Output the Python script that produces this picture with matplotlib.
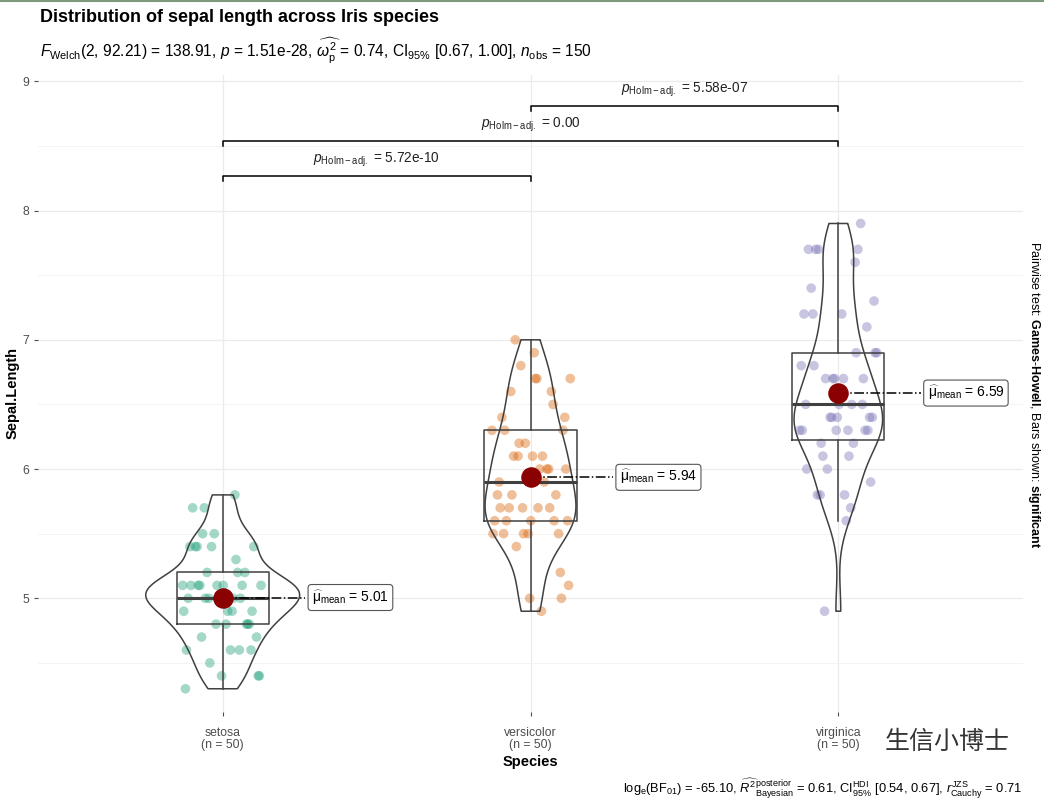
import matplotlib.pyplot as plt
import numpy as np

plt.rcParams['font.family'] = ['Liberation Sans', 'DejaVu Sans']
plt.rcParams['mathtext.fontset'] = 'custom'
plt.rcParams['mathtext.rm'] = 'Liberation Sans'
plt.rcParams['mathtext.it'] = 'Liberation Sans:italic'
plt.rcParams['mathtext.bf'] = 'Liberation Sans:bold'

# data: iris Sepal.Length by species
species = ['setosa', 'versicolor', 'virginica']
setosa = [5.1, 4.9, 4.7, 4.6, 5.0, 5.4, 4.6, 5.0, 4.4, 4.9, 5.4, 4.8, 4.8, 4.3, 5.8, 5.7, 5.4,
          5.1, 5.7, 5.1, 5.4, 5.1, 4.6, 5.1, 4.8, 5.0, 5.0, 5.2, 5.2, 4.7, 4.8, 5.4, 5.2, 5.5,
          4.9, 5.0, 5.5, 4.9, 4.4, 5.1, 5.0, 4.5, 4.4, 5.0, 5.1, 4.8, 5.1, 4.6, 5.3, 5.0]
versicolor = [7.0, 6.4, 6.9, 5.5, 6.5, 5.7, 6.3, 4.9, 6.6, 5.2, 5.0, 5.9, 6.0, 6.1, 5.6, 6.7, 5.6,
              5.8, 6.2, 5.6, 5.9, 6.1, 6.3, 6.1, 6.4, 6.6, 6.8, 6.7, 6.0, 5.7, 5.5, 5.5, 5.8, 6.0,
              5.4, 6.0, 6.7, 6.3, 5.6, 5.5, 5.5, 6.1, 5.8, 5.0, 5.6, 5.7, 5.7, 6.2, 5.1, 5.7]
virginica = [6.3, 5.8, 7.1, 6.3, 6.5, 7.6, 4.9, 7.3, 6.7, 7.2, 6.5, 6.4, 6.8, 5.7, 5.8, 6.4, 6.5,
             7.7, 7.7, 6.0, 6.9, 5.6, 7.7, 6.3, 6.7, 7.2, 6.2, 6.1, 6.4, 7.2, 7.4, 7.9, 6.4, 6.3,
             6.1, 7.7, 6.3, 6.4, 6.0, 6.9, 6.7, 6.9, 5.8, 6.8, 6.7, 6.7, 6.3, 6.5, 6.2, 5.9]
colors = ['#1B9E77', '#D95F02', '#7570B3']
pairs = [(0, 1), (0, 2), (1, 2)]
pair_p = ['5.72e-10', '0.00', '5.58e-07']

groups = [np.array(setosa), np.array(versicolor), np.array(virginica)]
pos = np.arange(1, len(species) + 1)

fig = plt.figure(figsize=(10.44, 8.05), dpi=100)
ax = fig.add_axes([0.0364, 0.1155, 0.9435, 0.7915])

# grid
ax.set_xlim(0.4, 3.6)
ax.set_ylim(4.12, 9.05)
ax.set_yticks([5, 6, 7, 8, 9])
ax.set_yticks(np.arange(4.5, 9.0, 1.0), minor=True)
ax.grid(which='major', color='#EBEBEB', lw=0.9)
ax.grid(which='minor', axis='y', color='#F2F2F2', lw=0.6)
ax.set_axisbelow(True)
for s in ax.spines.values():
    s.set_visible(False)
ax.tick_params(axis='both', which='major', length=3, color='#4D4D4D', labelcolor='#4D4D4D', labelsize=8.8)
ax.tick_params(axis='x', pad=8)
ax.tick_params(axis='y', which='minor', length=0)
ax.set_xticks(pos)
ax.set_xticklabels(['%s\n(n = %d)' % (sp, len(g)) for sp, g in zip(species, groups)], linespacing=1.0)

# jittered points
golden = 0.6180339887
for i, g in enumerate(groups):
    off = ((np.arange(len(g)) * golden + 0.31 * i) % 1 - 0.5) * 0.26
    ax.scatter(pos[i] + off, g, s=48, color=colors[i], alpha=0.4, edgecolors='none', zorder=2)

# boxplots
ax.boxplot(groups, positions=pos, widths=0.3, showfliers=False, whis=1.5, showcaps=False,
           boxprops=dict(color='#404040', lw=1.1), whiskerprops=dict(color='#404040', lw=1.1),
           medianprops=dict(color='#404040', lw=2.2), manage_ticks=False, zorder=3)

# violins (gaussian kde, bw.nrd0, trimmed, area scaling)
dens = []
for g in groups:
    n = len(g)
    iqr = np.percentile(g, 75) - np.percentile(g, 25)
    bw = 0.9 * min(g.std(ddof=1), iqr / 1.34) * n ** -0.2
    yy = np.linspace(g.min(), g.max(), 512)
    d = np.exp(-0.5 * ((yy[:, None] - g[None, :]) / bw) ** 2).sum(axis=1) / (n * bw * np.sqrt(2 * np.pi))
    dens.append((yy, d))
dmax = max(d.max() for _, d in dens)
for i, (yy, d) in enumerate(dens):
    hw = 0.25 * d / dmax
    ax.fill_betweenx(yy, pos[i] - hw, pos[i] + hw, facecolor='none', edgecolor='#404040', lw=1.1, zorder=3)

# means with labels
for i, g in enumerate(groups):
    m = g.mean()
    ax.plot([pos[i], pos[i] + 0.267], [m, m], ls='-.', color='black', lw=1.1, zorder=4)
    ax.scatter(pos[i], m, s=190, color='#8B0000', zorder=5)
    ax.text(pos[i] + 0.29, m, r'$\widehat{\mathrm{\mu}}_{\mathrm{mean}}$ = %.2f' % m, fontsize=10, va='center',
            ha='left', bbox=dict(boxstyle='round,pad=0.28,rounding_size=0.25', fc='white', ec='#555555', lw=0.8),
            zorder=6)

# pairwise brackets
top = max(g.max() for g in groups)
for k, ((a, b), p) in enumerate(zip(pairs, pair_p)):
    yb = top + 0.37 + 0.27 * k
    ax.plot([pos[a], pos[a], pos[b], pos[b]], [yb - 0.04, yb, yb, yb - 0.04], color='black', lw=1.1)
    ax.text((pos[a] + pos[b]) / 2, yb + 0.05, r'$p_{\mathrm{Holm-adj.}}$ = ' + p, fontsize=9.8,
            ha='center', va='bottom', color='#222222')

ax.set_ylabel('Sepal.Length', fontsize=10.5, fontweight='bold', labelpad=2)
ax.set_xlabel('Species', fontsize=10.5, fontweight='bold', labelpad=3)

fig.text(0.038, 0.978, 'Distribution of sepal length across Iris species', fontsize=13, fontweight='bold',
         ha='left', va='center')
fig.text(0.038, 0.937, r'$F_{\mathrm{Welch}}$(2, 92.21) = 138.91, $p$ = 1.51e-28, '
         r'$\widehat{\omega_{\mathrm{p}}^2}$ = 0.74, CI$_{95\%}$ [0.67, 1.00], $n_{\mathrm{obs}}$ = 150',
         fontsize=11.2, ha='left', va='center')
fig.text(0.979, 0.02, r'log$_{\mathrm{e}}$(BF$_{01}$) = -65.10, '
         r'$\widehat{R^2}_{\mathrm{Bayesian}}^{\mathrm{posterior}}$ = 0.61, '
         r'CI$_{95\%}^{\mathrm{HDI}}$ [0.54, 0.67], $r_{\mathrm{Cauchy}}^{\mathrm{JZS}}$ = 0.71',
         fontsize=9.3, ha='right', va='center')
fig.text(0.990, 0.51, r'Pairwise test: $\mathbf{Games}$-$\mathbf{Howell}$, Bars shown: $\mathbf{significant}$',
         fontsize=9, rotation=-90, ha='center', va='center')

# watermark
fig.text(0.967, 0.078, '生信小博士', fontsize=18, family=['Noto Sans CJK SC', 'DejaVu Sans'], color='#333333',
         ha='right', va='center', bbox=dict(boxstyle='square,pad=0.15', fc='white', ec='none'))

fig.add_artist(plt.Line2D([0, 1], [0.999, 0.999], color='#7D9A7D', lw=1.5))

fig.savefig('out.png', dpi=100)
